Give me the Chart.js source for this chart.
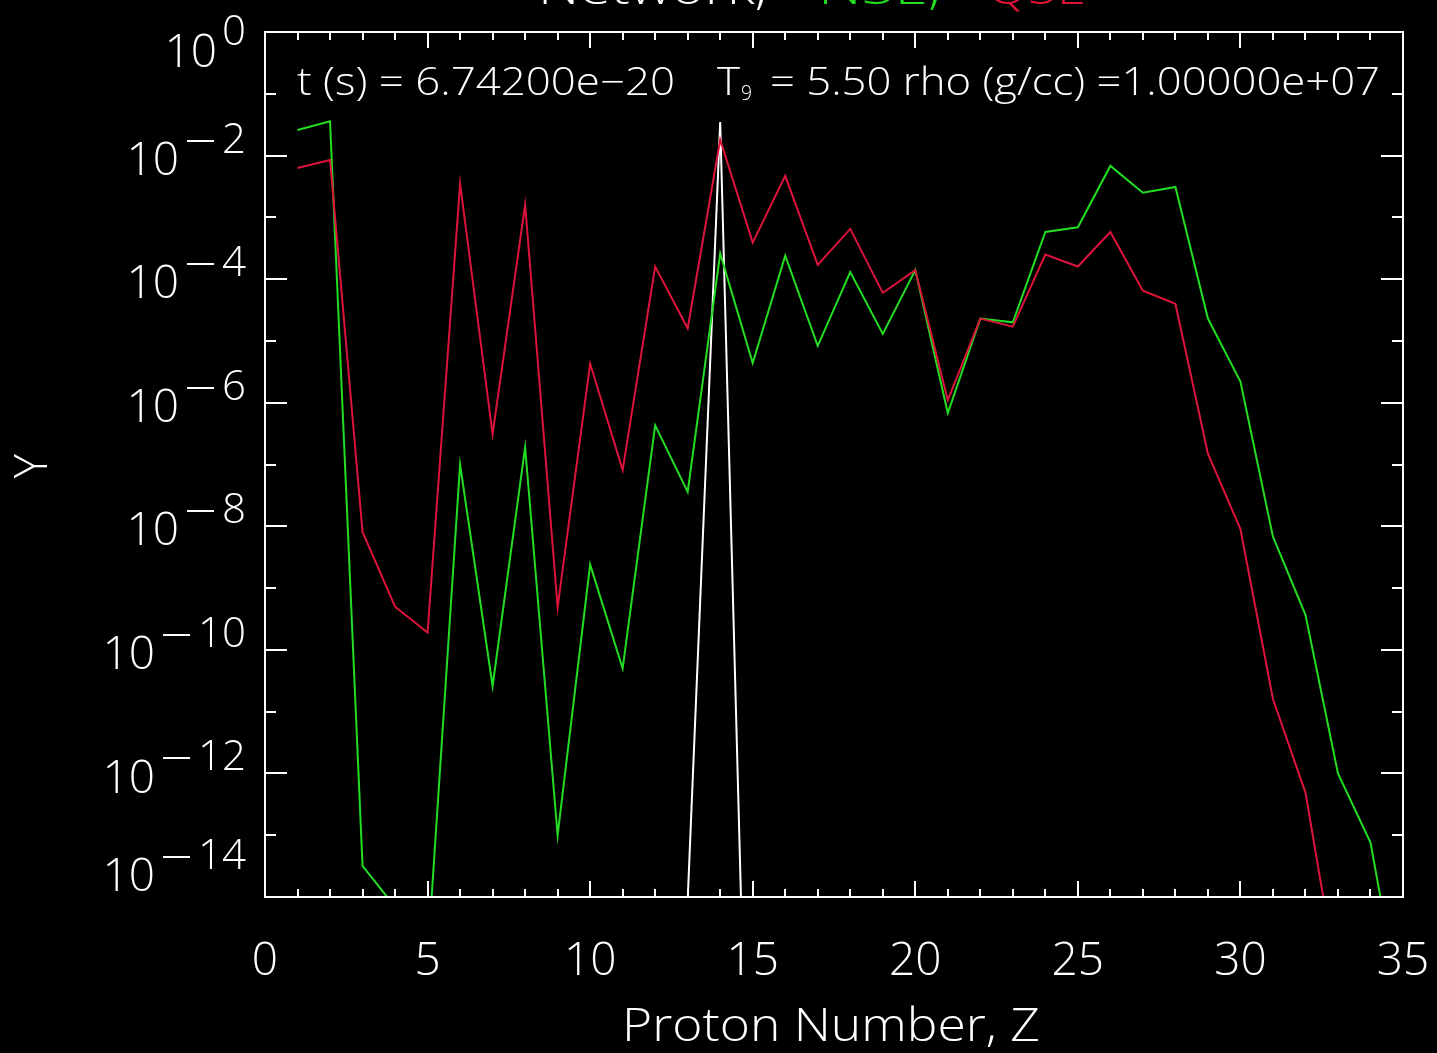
<!DOCTYPE html>
<html>
<head>
<meta charset="utf-8">
<script src="https://cdn.jsdelivr.net/npm/chart.js@4.4.1/dist/chart.umd.min.js"></script>
<style>
    html, body { margin: 0; padding: 0; background: #000; }
    #wrap { width: 1437px; height: 1053px; }
</style>
</head>
<body>
<div id="wrap">
    <canvas id="abundChart" width="1437" height="1053"></canvas>
</div>

<script>
    // Abundances Y versus proton number Z
    const protonZ = [1, 2, 3, 4, 5, 6, 7, 8, 9, 10, 11, 12, 13, 14, 15, 16, 17, 18,
                     19, 20, 21, 22, 23, 24, 25, 26, 27, 28, 29, 30, 31, 32, 33, 34, 35];

    // NSE (green)
    const nseY = [2.6e-2, 3.6e-2, 3.2e-14, 6.9e-15, 1.0e-15, 1.0e-7, 2.6e-11, 1.9e-7, 1.0e-13, 2.4e-9,
                  5.0e-11, 4.3e-7, 3.6e-8, 2.6e-4, 4.4e-6, 2.4e-4, 8.3e-6, 1.3e-4, 1.3e-5, 1.4e-4,
                  6.8e-7, 2.3e-5, 2.0e-5, 5.8e-4, 6.9e-4, 6.8e-3, 2.5e-3, 3.1e-3, 2.3e-5, 2.2e-6,
                  6.8e-9, 3.7e-10, 1.0e-12, 7.6e-14, 1.0e-16];

    // QSE (red), Z = 1..33
    const qseY = [6.3e-3, 8.5e-3, 8.1e-9, 5.0e-10, 1.9e-10, 3.5e-3, 3.1e-7, 1.6e-3, 4.9e-10, 4.3e-6,
                  8.1e-8, 1.6e-4, 1.6e-5, 1.8e-2, 3.9e-4, 4.7e-3, 1.7e-4, 6.5e-4, 6.0e-5, 1.4e-4,
                  1.1e-6, 2.3e-5, 1.7e-5, 2.5e-4, 1.6e-4, 5.8e-4, 6.5e-5, 4.0e-5, 1.5e-7, 9.0e-9,
                  1.6e-11, 4.9e-13, 4.0e-16];

    // Network (white): only silicon is populated at this time
    const networkZ = [13, 14, 15];
    const networkY = [9.0e-15, 3.5e-2, 8.0e-22];

    const xTickLabels = ['0', '5', '10', '15', '20', '25', '30', '35'];
    const yTickExponents = [0, -2, -4, -6, -8, -10, -12, -14];

    const titleParts = [
        { text: 'Network,', color: '#ffffff', x0: 538, x1: 767 },
        { text: 'NSE,', color: '#22dd22', x0: 818, x1: 941 },
        { text: 'QSE', color: '#dc143c', x0: 987, x1: 1086 }
    ];

    const FONT = '"Open Sans", "DejaVu Sans", sans-serif';

    function toPoints(xs, ys) {
        return ys.map((y, i) => ({ x: xs[i], y: y }));
    }

    // draw text squeezed/stretched to span x0..x1
    function fitText(ctx, text, x0, x1, y) {
        const w = ctx.measureText(text).width;
        ctx.save();
        ctx.translate(x0, y);
        ctx.scale((x1 - x0) / w, 1);
        ctx.textAlign = 'left';
        ctx.fillText(text, 0, 0);
        ctx.restore();
    }

    const framePlugin = {
        id: 'frame',
        beforeDraw(chart) {
            const ctx = chart.ctx;
            ctx.save();
            ctx.fillStyle = '#000';
            ctx.fillRect(0, 0, chart.width, chart.height);
            ctx.restore();
        },
        afterDraw(chart) {
            const ctx = chart.ctx;
            const area = chart.chartArea;
            const xs = chart.scales.x;
            const ys = chart.scales.y;
            ctx.save();
            ctx.strokeStyle = '#fff';
            ctx.fillStyle = '#fff';
            ctx.lineWidth = 2;
            ctx.strokeRect(area.left, area.top, area.right - area.left, area.bottom - area.top);

            // x ticks, top and bottom, pointing inward
            ctx.beginPath();
            for (let i = 0; i <= 35; i++) {
                const px = Math.round(xs.getPixelForValue(i));
                const len = i % 5 === 0 ? 16 : 8;
                ctx.moveTo(px, area.bottom); ctx.lineTo(px, area.bottom - len);
                ctx.moveTo(px, area.top); ctx.lineTo(px, area.top + len);
            }
            // y ticks, left and right
            for (let e = 0; e >= -14; e--) {
                const py = Math.round(ys.getPixelForValue(Math.pow(10, e)));
                const len = e % 2 === 0 ? 22 : 11;
                ctx.moveTo(area.left, py); ctx.lineTo(area.left + len, py);
                ctx.moveTo(area.right, py); ctx.lineTo(area.right - len, py);
            }
            ctx.stroke();

            // x tick labels
            ctx.font = '300 46px ' + FONT;
            ctx.textAlign = 'center';
            ctx.textBaseline = 'middle';
            xTickLabels.forEach(lbl => {
                ctx.fillText(lbl, xs.getPixelForValue(Number(lbl)), 962);
            });

            // y tick labels as 10^n, with a long minus bar in the exponent
            yTickExponents.forEach((e, i) => {
                const py = ys.getPixelForValue(Math.pow(10, e));
                let off = 6;
                if (i === 0) off = 22;
                if (i === yTickExponents.length - 1) off = -19;
                const digits = String(Math.abs(e));
                const expY = py + off - 21;
                ctx.textAlign = 'right';
                ctx.font = '300 42px ' + FONT;
                const dw = ctx.measureText(digits).width;
                ctx.fillText(digits, 246, expY);
                let baseRight = 246 - dw - 5;
                if (e < 0) {
                    const mRight = 246 - dw - 8;
                    ctx.fillRect(mRight - 27, Math.round(expY) - 1, 27, 2);
                    baseRight = mRight - 27 - 8;
                }
                ctx.font = '300 46px ' + FONT;
                ctx.fillText('10', baseRight, py + off);
            });

            // axis titles
            ctx.font = '300 46px ' + FONT;
            ctx.textBaseline = 'middle';
            fitText(ctx, 'Proton Number, Z', 622, 1040, 1028);
            ctx.save();
            ctx.translate(34, 466);
            ctx.rotate(-Math.PI / 2);
            ctx.textAlign = 'center';
            ctx.fillText('Y', 0, 0);
            ctx.restore();

            // run conditions
            ctx.font = '300 38px ' + FONT;
            fitText(ctx, 't (s) = 6.74200e\u221220', 297, 675, 84);
            fitText(ctx, 'T', 717, 740, 84);
            ctx.font = '300 20px ' + FONT;
            fitText(ctx, '9', 741, 752, 94);
            ctx.font = '300 38px ' + FONT;
            fitText(ctx, '= 5.50 rho (g/cc) =1.00000e+07', 770, 1380, 84);

            // title, mostly above the canvas edge
            ctx.font = '300 46px ' + FONT;
            ctx.textBaseline = 'alphabetic';
            titleParts.forEach(p => {
                ctx.fillStyle = p.color;
                fitText(ctx, p.text, p.x0, p.x1, 4);
            });
            ctx.restore();
        }
    };

    const ctx = document.getElementById('abundChart').getContext('2d');
    new Chart(ctx, {
        type: 'line',
        data: {
            datasets: [
                {
                    label: 'QSE',
                    data: toPoints(protonZ, qseY),
                    borderColor: '#dc143c',
                    borderWidth: 2,
                    pointRadius: 0,
                    tension: 0
                },
                {
                    label: 'NSE',
                    data: toPoints(protonZ, nseY),
                    borderColor: '#22dd22',
                    borderWidth: 2,
                    pointRadius: 0,
                    tension: 0
                },
                {
                    label: 'Network',
                    data: toPoints(networkZ, networkY),
                    borderColor: '#ffffff',
                    borderWidth: 2,
                    pointRadius: 0,
                    tension: 0
                }
            ]
        },
        options: {
            responsive: false,
            animation: false,
            devicePixelRatio: 1,
            layout: { padding: { top: 32, right: 34, left: 0, bottom: 0 } },
            plugins: {
                legend: { display: false },
                tooltip: { enabled: false }
            },
            scales: {
                x: {
                    type: 'linear',
                    min: 0,
                    max: 35,
                    grid: { display: false },
                    border: { display: false },
                    ticks: { display: false },
                    afterFit(scale) { scale.height = 156; }
                },
                y: {
                    type: 'logarithmic',
                    min: 1e-14,
                    max: 1,
                    grid: { display: false },
                    border: { display: false },
                    ticks: { display: false },
                    afterFit(scale) { scale.width = 265; }
                }
            }
        },
        plugins: [framePlugin]
    });
</script>
</body>
</html>
